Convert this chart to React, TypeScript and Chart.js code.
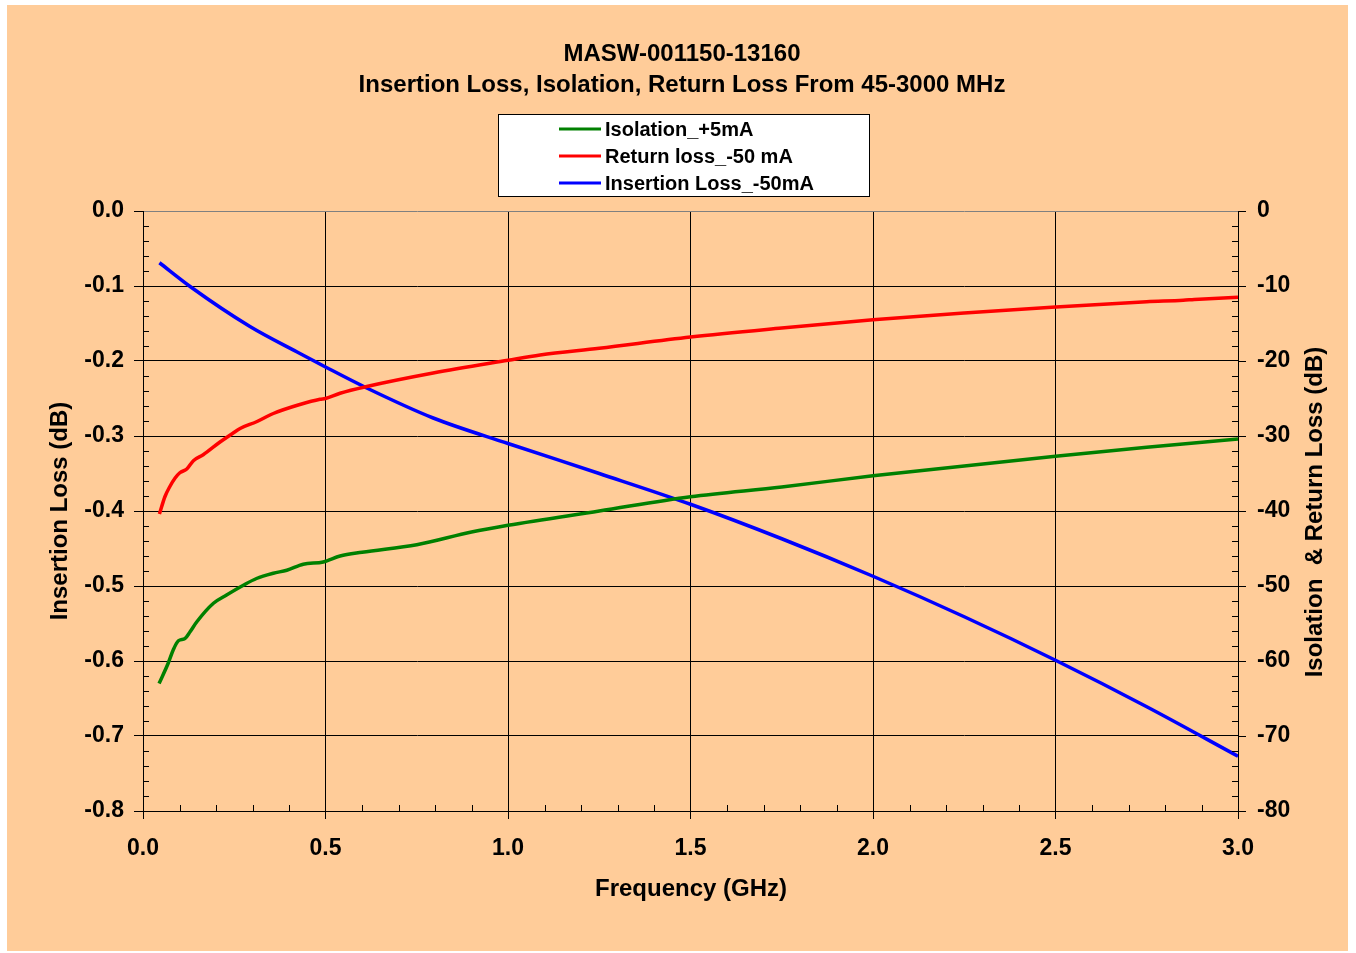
import { useEffect, useRef } from "react";
import { Chart, registerables } from "chart.js";

Chart.register(...registerables);

const titleLines = ["MASW-001150-13160", "Insertion Loss, Isolation, Return Loss From 45-3000 MHz"];
const xTitle = "Frequency (GHz)";
const yLeftTitle = "Insertion Loss (dB)";
const yRightTitle = "Isolation  & Return Loss (dB)";

const seriesLabels = ["Isolation_+5mA", "Return loss_-50 mA", "Insertion Loss_-50mA"];
const seriesColors = ["#008000", "#FF0000", "#0000FF"];

const isoFreq = [0.044, 0.069, 0.083, 0.097, 0.115, 0.129, 0.147, 0.193, 0.229, 0.275, 0.311, 0.357, 0.394, 0.439, 0.494, 0.54, 0.6, 0.75, 0.9, 1.0, 1.25, 1.5, 1.75, 2.0, 2.25, 2.5, 2.75, 3.0];
const isoValues = [-63.0, -60.3, -58.5, -57.3, -57.0, -56.1, -54.8, -52.3, -51.2, -49.9, -49.0, -48.3, -47.9, -47.1, -46.8, -46.0, -45.5, -44.5, -42.8, -41.9, -40.0, -38.1, -36.8, -35.3, -34.0, -32.7, -31.5, -30.4];

const rlFreq = [0.045, 0.06, 0.074, 0.088, 0.101, 0.12, 0.138, 0.165, 0.211, 0.247, 0.266, 0.311, 0.357, 0.43, 0.485, 0.5, 0.54, 0.613, 0.795, 1.0, 1.088, 1.25, 1.5, 1.75, 2.0, 2.25, 2.5, 2.75, 2.85, 2.88, 3.0];
const rlValues = [-40.4, -38.1, -36.7, -35.6, -34.9, -34.4, -33.3, -32.5, -30.8, -29.6, -29.0, -28.1, -27.0, -25.8, -25.1, -25.0, -24.3, -23.4, -21.6, -19.9, -19.2, -18.3, -16.8, -15.6, -14.5, -13.6, -12.8, -12.1, -11.9, -11.8, -11.5];

const ilFreq = [0.045, 0.13, 0.293, 0.43, 0.5, 0.613, 0.795, 1.0, 1.25, 1.5, 1.75, 2.0, 2.25, 2.5, 2.75, 3.0];
const ilValues = [-0.069, -0.101, -0.154, -0.19, -0.208, -0.236, -0.276, -0.31, -0.35, -0.391, -0.437, -0.487, -0.541, -0.599, -0.661, -0.727];

const xTicksStep = 0.5;
const FONT = "'Liberation Sans', Arial, sans-serif";

const toPoints = (xs: number[], ys: number[]) => xs.map((x, i) => ({ x, y: ys[i] }));

const decorPlugin = {
  id: "decor",
  afterDraw(chart: any) {
    const { ctx, chartArea: a, scales } = chart;
    ctx.save();
    // minor ticks
    ctx.strokeStyle = "#000";
    ctx.lineWidth = 1;
    ctx.beginPath();
    for (let i = 0; i <= 40; i++) {
      if (i % 5 === 0) continue;
      const y = Math.round(scales.y.getPixelForValue(-0.8 + i * 0.02)) + 0.5;
      ctx.moveTo(a.left, y);
      ctx.lineTo(a.left + 6, y);
    }
    for (let i = 0; i <= 40; i++) {
      if (i % 5 === 0) continue;
      const y = Math.round(scales.y1.getPixelForValue(-80 + i * 2)) + 0.5;
      ctx.moveTo(a.right, y);
      ctx.lineTo(a.right - 6, y);
    }
    for (let i = 0; i <= 30; i++) {
      if (i % 5 === 0) continue;
      const x = Math.round(scales.x.getPixelForValue(i * 0.1)) + 0.5;
      ctx.moveTo(x, a.bottom);
      ctx.lineTo(x, a.bottom - 6);
    }
    ctx.stroke();

    // title
    ctx.fillStyle = "#000";
    ctx.textAlign = "center";
    ctx.textBaseline = "middle";
    ctx.font = `bold 24px ${FONT}`;
    ctx.fillText(titleLines[0], 675, 49);
    ctx.fillText(titleLines[1], 675, 80);

    // legend
    ctx.fillStyle = "#fff";
    ctx.fillRect(491, 109, 371, 82);
    ctx.strokeStyle = "#000";
    ctx.lineWidth = 1;
    ctx.strokeRect(491.5, 109.5, 371, 82);
    ctx.font = `bold 20px ${FONT}`;
    ctx.textAlign = "left";
    chart.data.datasets.forEach((ds: any, i: number) => {
      const y = 124 + i * 27;
      ctx.strokeStyle = ds.borderColor;
      ctx.lineWidth = 3;
      ctx.beginPath();
      ctx.moveTo(552, y);
      ctx.lineTo(594, y);
      ctx.stroke();
      ctx.fillStyle = "#000";
      ctx.fillText(ds.label, 598, y + 1);
    });

    // axis titles
    ctx.font = `bold 24px ${FONT}`;
    ctx.textAlign = "center";
    ctx.fillText(xTitle, 684, 884);
    ctx.save();
    ctx.translate(53, 506);
    ctx.rotate(-Math.PI / 2);
    ctx.fillText(yLeftTitle, 0, 0);
    ctx.restore();
    ctx.save();
    ctx.translate(1308, 507);
    ctx.rotate(-Math.PI / 2);
    ctx.fillText(yRightTitle, 0, 0);
    ctx.restore();
    ctx.restore();
  },
};

export default function App() {
  const ref = useRef<HTMLCanvasElement | null>(null);
  useEffect(() => {
    if (!ref.current) return;
    const tickFont = { family: FONT, size: 23, weight: "bold" as const };
    const chart = new Chart(ref.current, {
      type: "line",
      data: {
        datasets: [
          { label: seriesLabels[0], data: toPoints(isoFreq, isoValues), borderColor: seriesColors[0], yAxisID: "y1" },
          { label: seriesLabels[1], data: toPoints(rlFreq, rlValues), borderColor: seriesColors[1], yAxisID: "y1" },
          { label: seriesLabels[2], data: toPoints(ilFreq, ilValues), borderColor: seriesColors[2], yAxisID: "y" },
        ].map((d) => ({ ...d, borderWidth: 3.5, pointRadius: 0, fill: false, cubicInterpolationMode: "monotone" as const, backgroundColor: d.borderColor })),
      },
      options: {
        animation: false,
        responsive: true,
        maintainAspectRatio: false,
        layout: { padding: { top: 206, left: 0, right: 0, bottom: 0 } },
        plugins: { legend: { display: false }, title: { display: false }, tooltip: { enabled: false } },
        scales: {
          x: {
            type: "linear",
            min: 0,
            max: 3,
            afterFit: (s: any) => { s.height = 140; },
            ticks: { stepSize: xTicksStep, callback: (v: any) => Number(v).toFixed(1), font: tickFont, color: "#000", padding: 16, maxRotation: 0 },
            grid: { color: "#000", lineWidth: 1, tickLength: 8, tickColor: "#000" },
            border: { display: true, color: "#000", width: 1 },
          },
          y: {
            type: "linear",
            position: "left",
            min: -0.8,
            max: 0,
            afterFit: (s: any) => { s.width = 136; },
            ticks: { stepSize: 0.1, callback: (v: any) => Number(v).toFixed(1), font: tickFont, color: "#000", padding: 10 },
            grid: { color: (c: any) => (c.tick && Math.abs(c.tick.value) < 1e-9 ? "#808080" : "#000"), lineWidth: 1, tickLength: 9, tickColor: "#000" },
            border: { display: true, color: "#000", width: 1 },
          },
          y1: {
            type: "linear",
            position: "right",
            min: -80,
            max: 0,
            afterFit: (s: any) => { s.width = 110; },
            ticks: { stepSize: 10, font: tickFont, color: "#000", padding: 11 },
            grid: { drawOnChartArea: false, tickLength: 8, tickColor: "#000" },
            border: { display: true, color: "#000", width: 1 },
          },
        },
      },
      plugins: [decorPlugin],
    });
    return () => chart.destroy();
  }, []);
  return (
    <div style={{ position: "fixed", left: 7, top: 5, width: 1341, height: 946, background: "#FFCC99" }}>
      <canvas ref={ref} />
    </div>
  );
}
